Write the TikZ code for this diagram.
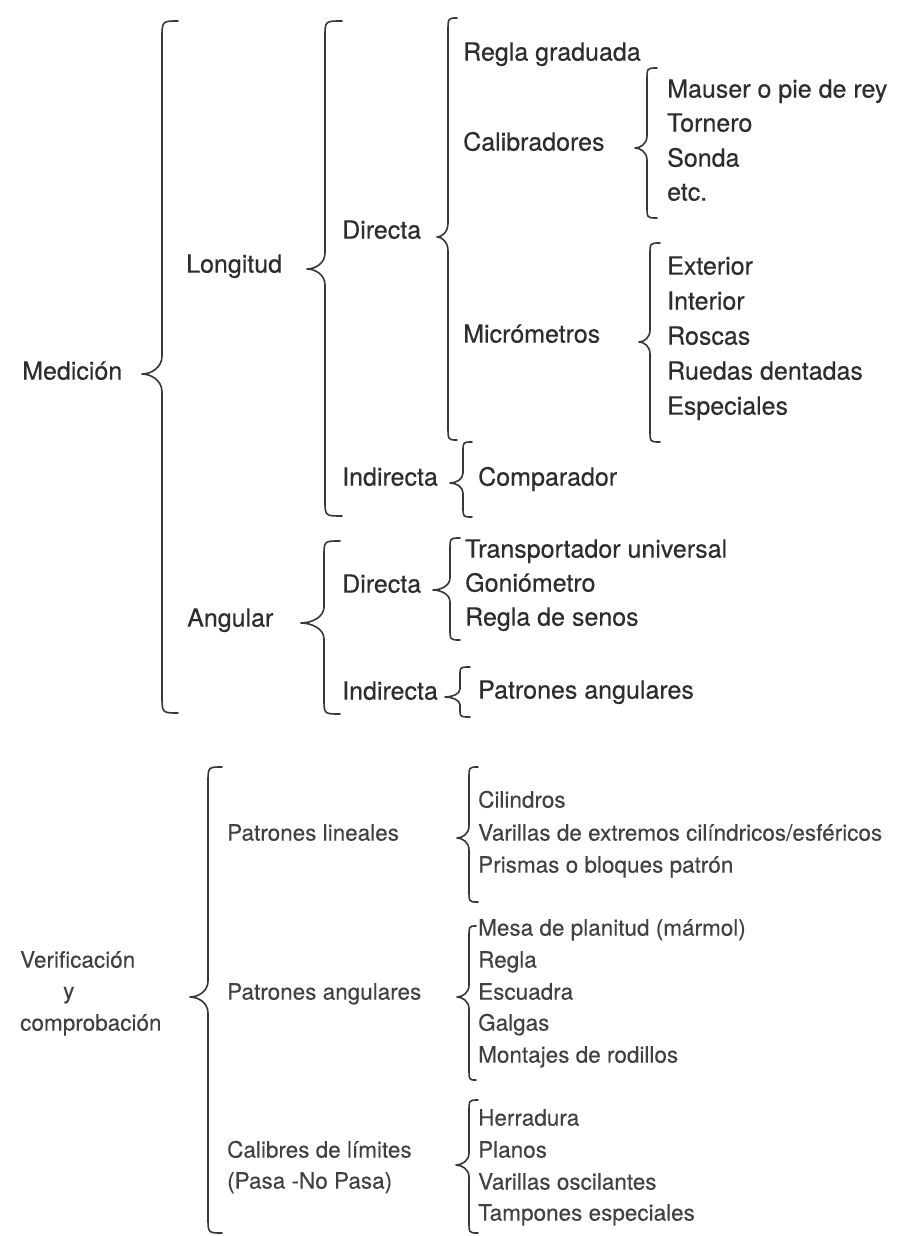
\documentclass[tikz,border=0pt]{standalone}
\usepackage{fontspec}
\setmainfont{TeX Gyre Heros}
\newfontfamily\heavyfont[FakeBold=0.35]{TeX Gyre Heros}
\newfontfamily\lightfont[FakeBold=0.15]{TeX Gyre Heros}
\definecolor{txtc}{RGB}{45,45,45}
\definecolor{txtd}{RGB}{65,65,65}
\definecolor{brc}{RGB}{55,55,55}
\newcommand{\curlybrace}[7]{%
  \draw[bracestyle] (#1,#4) .. controls (#2,#4) .. ({#2},{#4+#7})
    -- ({#2},{#5-#7}) .. controls ({#2},{#5-0.35*#7}) and ({#3+0.45*(#2-#3)},{#5}) .. (#3,#5)
    .. controls ({#3+0.45*(#2-#3)},{#5}) and ({#2},{#5+0.35*#7}) .. ({#2},{#5+#7})
    -- ({#2},{#6-#7}) .. controls (#2,#6) .. (#1,#6);}
\begin{document}
\begin{tikzpicture}[x=1pt,y=-1pt,
  bracestyle/.style={draw=brc,line width=1.6pt,line cap=round,line join=round},
  txt/.style={anchor=mid west,inner sep=0pt,text=txtc,font={\heavyfont\fontsize{25}{30}\selectfont}},
  txs/.style={anchor=mid west,inner sep=0pt,text=txtd,font={\lightfont\fontsize{22.5}{27}\selectfont}}]
\useasboundingbox[fill=white] (0,0) rectangle (897,1236);
% ---- Medicion ----
\node[txt] (med) at (22,377) {Medición};
\node[txt] (lon) at (186,270) {Longitud};
\node[txt] (dir1) at (342,236) {Directa};
\node[txt] (reg) at (463,58) {Regla graduada};
\node[txt] (cal) at (463,148) {Calibradores};
\node[txt] (mau) at (667,95) {Mauser o pie de rey};
\node[txt] (tor) at (667,129) {Tornero};
\node[txt] (son) at (667,164) {Sonda};
\node[txt] (etc) at (667,198) {etc.};
\node[txt] (mic) at (463,340) {Micrómetros};
\node[txt] (ext) at (667,272) {Exterior};
\node[txt] (int) at (667,307) {Interior};
\node[txt] (ros) at (667,342) {Roscas};
\node[txt] (rue) at (667,377) {Ruedas dentadas};
\node[txt] (esp) at (667,412) {Especiales};
\node[txt] (ind1) at (342,483) {Indirecta};
\node[txt] (comp) at (478,483) {Comparador};
\node[txt] (ang) at (187,624) {Angular};
\node[txt] (dir2) at (342,590) {Directa};
\node[txt] (tra) at (465,555) {Transportador universal};
\node[txt] (gon) at (465,589) {Goniómetro};
\node[txt] (rds) at (465,623) {Regla de senos};
\node[txt] (ind2) at (342,697) {Indirecta};
\node[txt] (pang) at (478,696) {Patrones angulares};
% braces (end x, line x, tip x, top, tip y, bottom, radius)
\curlybrace{178}{162}{142}{21}{374}{713}{18}
\curlybrace{342}{325}{307}{21}{269}{516}{16}
\curlybrace{340}{324}{301}{541}{623}{714}{16}
\curlybrace{457}{448}{437}{18}{237}{440}{14}
\curlybrace{657}{647}{635}{68}{148}{218}{12}
\curlybrace{660}{650}{639}{243}{342}{442}{12}
\curlybrace{472}{463}{450}{442}{483}{517}{10}
\curlybrace{460}{450}{433}{538}{590}{640}{12}
\curlybrace{470}{460}{445}{667}{697}{717}{8}
% ---- Verificacion ----
\node[txs] (ver) at (20,965) {Verificación};
\node[txs] (very) at (63,996) {y};
\node[txs] (verc) at (20,1028) {comprobación};
\node[txs] (pl) at (227,838) {Patrones lineales};
\node[txs] (pa) at (227,997) {Patrones angulares};
\node[txs] (cl) at (227,1155) {Calibres de límites};
\node[txs] (clp) at (227,1186) {(Pasa -No Pasa)};
\node[txs] (cil) at (478,805) {Cilindros};
\node[txs] (var) at (478,838) {Varillas de extremos cilíndricos/esféricos};
\node[txs] (pri) at (478,870) {Prismas o bloques patrón};
\node[txs] (mesa) at (478,933) {Mesa de planitud (mármol)};
\node[txs] (regl) at (478,965) {Regla};
\node[txs] (esc) at (478,997) {Escuadra};
\node[txs] (gal) at (478,1028) {Galgas};
\node[txs] (mon) at (478,1060) {Montajes de rodillos};
\node[txs] (her) at (478,1123) {Herradura};
\node[txs] (pla) at (478,1155) {Planos};
\node[txs] (vos) at (478,1187) {Varillas oscilantes};
\node[txs] (tam) at (478,1218) {Tampones especiales};
\curlybrace{222}{208}{190}{767}{997}{1233}{16}
\curlybrace{478}{469}{457}{767}{838}{902}{12}
\curlybrace{476}{469}{457}{926}{997}{1080}{12}
\curlybrace{478}{469}{456}{1100}{1165}{1233}{12}
\end{tikzpicture}
\end{document}
